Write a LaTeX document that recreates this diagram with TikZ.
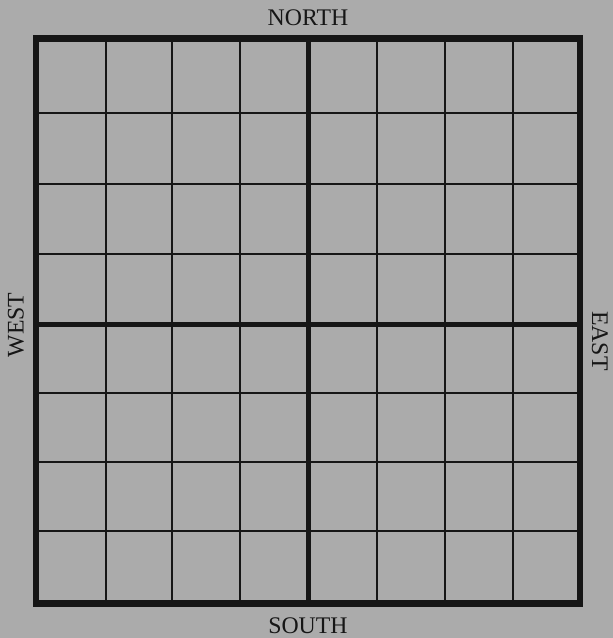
\documentclass[tikz,border=0pt]{standalone}
\usepackage{fontspec}
\setmainfont{Liberation Serif}
\usepackage{tikz}
\definecolor{paper}{HTML}{ABABAB}
\definecolor{ink}{HTML}{161616}
\tikzset{
  frameline/.style={draw=ink, line width=6.5pt},
  axisline/.style={draw=ink, line width=5pt},
  gridline/.style={draw=ink, line width=1.8pt},
  compass/.style={font=\fontsize{23.8}{28}\selectfont, text=ink, inner sep=0pt}
}

\begin{document}
\begin{tikzpicture}[x=1pt,y=-1pt]
        \fill[paper] (0,0) rectangle (613,638);
        \useasboundingbox (0,0) rectangle (613,638);
        \foreach \x in {106,172,240,377,445,513} {
          \draw[gridline] (\x,41) -- (\x,600);
        }
        \foreach \y in {113,184,254,393,462,531} {
          \draw[gridline] (39,\y) -- (577,\y);
        }
        \draw[axisline] (308,41) -- (308,600);
        \draw[axisline] (39,324) -- (577,324);
        \draw[frameline] (36,38.5) rectangle (580,603.5);
        \node[compass] (north) at (308,17.5) {NORTH};
        \node[compass] (south) at (308,625.5) {SOUTH};
        \node[compass, rotate=90] (west) at (16,325) {WEST};
        \node[compass, rotate=-90] (east) at (600,341) {EAST};
      \end{tikzpicture}
\end{document}
